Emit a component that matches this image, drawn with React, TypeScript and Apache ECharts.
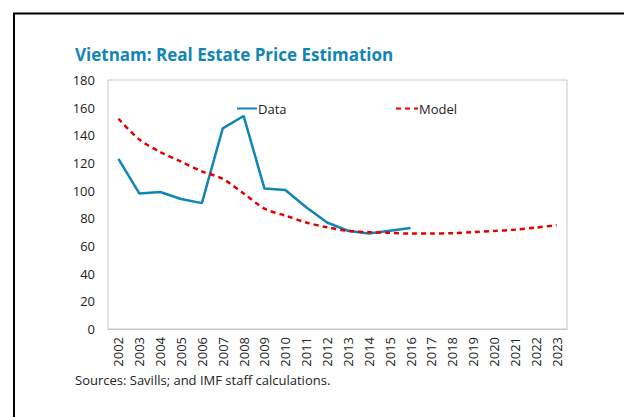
import React, { useEffect, useRef } from "react";
import * as echarts from "echarts";

const years = ["2002","2003","2004","2005","2006","2007","2008","2009","2010","2011","2012","2013","2014","2015","2016","2017","2018","2019","2020","2021","2022","2023"];
const dataValues = [123, 98, 99, 94, 91, 145, 154, 101.5, 100.5, 88, 77, 71, 69, 71, 73];
const modelValues = [152, 137, 128, 121, 114, 108.5, 98, 87, 82, 77, 73.5, 71, 70, 69.5, 69, 69, 69.3, 70, 70.8, 71.8, 73.3, 75];
const yTicks = { min: 0, max: 180, interval: 20 };

const FONT = "'Open Sans', 'Noto Sans', sans-serif";

export default function App() {
  const ref = useRef<HTMLDivElement>(null);
  useEffect(() => {
    if (!ref.current) return;
    const chart = echarts.init(ref.current, undefined, { renderer: "svg" });
    chart.setOption({
      animation: false,
      backgroundColor: "#ffffff",
      textStyle: { fontFamily: FONT },
      title: {
        text: "Vietnam: Real Estate Price Estimation",
        left: 70,
        top: 41,
        textStyle: { fontFamily: FONT, fontSize: 17, fontWeight: "bold", color: "#1185b6" },
      },
      legend: [
        {
          data: ["Data"],
          left: 231,
          top: 97,
          itemWidth: 20,
          itemHeight: 10,
          itemGap: 0,
          itemStyle: { opacity: 0 },
          textStyle: { fontFamily: FONT, fontSize: 13, color: "#222", padding: [0, 0, 0, -4] },
        },
        {
          data: ["Model"],
          left: 390,
          top: 97,
          itemWidth: 22,
          itemHeight: 10,
          itemStyle: { opacity: 0 },
          textStyle: { fontFamily: FONT, fontSize: 13, color: "#222", padding: [0, 0, 0, -4] },
        },
      ],
      grid: {
        left: 108,
        top: 80,
        width: 459,
        height: 249,
        show: true,
        borderColor: "#c8c8c8",
        borderWidth: 1,
      },
      xAxis: {
        type: "category",
        data: years,
        boundaryGap: true,
        axisLine: { show: true, lineStyle: { color: "#c8c8c8" } },
        axisTick: { show: false },
        axisLabel: { rotate: 90, fontSize: 13, color: "#222", margin: 8, interval: 0, fontFamily: FONT },
      },
      yAxis: {
        type: "value",
        min: yTicks.min,
        max: yTicks.max,
        interval: yTicks.interval,
        splitLine: { show: false },
        axisLine: { show: false },
        axisTick: { show: false },
        axisLabel: { fontSize: 13, color: "#222", margin: 13, fontFamily: FONT },
      },
      series: [
        {
          name: "Data",
          type: "line",
          data: dataValues,
          symbol: "none",
          lineStyle: { color: "#1185b6", width: 2.5 },
          itemStyle: { color: "#1185b6" },
        },
        {
          name: "Model",
          type: "line",
          data: modelValues,
          symbol: "none",
          smooth: 0.3,
          lineStyle: { color: "#e50000", width: 2.5, type: [5, 4] },
          itemStyle: { color: "#e50000" },
        },
      ],
      graphic: [
        { type: "line", shape: { x1: 14, y1: 13, x2: 14, y2: 417 }, style: { stroke: "#000", lineWidth: 2 } },
        { type: "line", shape: { x1: 13, y1: 13.5, x2: 624, y2: 13.5 }, style: { stroke: "#000", lineWidth: 2 } },
        {
          type: "text",
          left: 75,
          top: 373,
          style: { text: "Sources: Savills; and IMF staff calculations.", fontSize: 13, fill: "#222", fontFamily: FONT },
        },
      ],
    });
    return () => chart.dispose();
  }, []);
  return <div ref={ref} style={{ position: "fixed", left: 0, top: 0, width: 624, height: 417 }} />;
}
